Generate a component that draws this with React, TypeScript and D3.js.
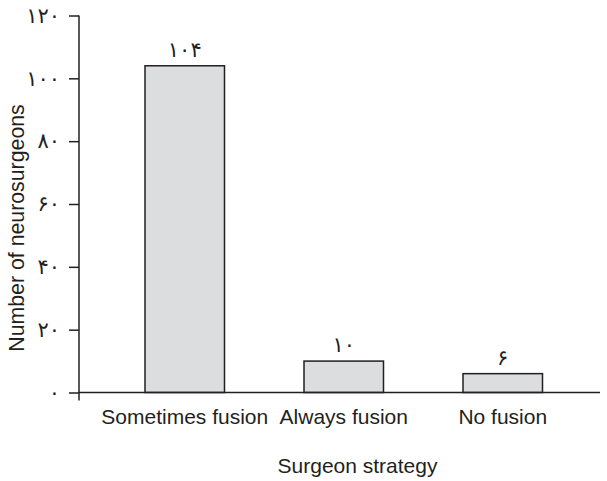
import React, { useEffect, useRef } from "react";
import * as d3 from "d3";

const categories = ["Sometimes fusion", "Always fusion", "No fusion"];
const counts = [104, 10, 6];
const yTickValues = [0, 20, 40, 60, 80, 100, 120];
const xTitle = "Surgeon strategy";
const yTitle = "Number of neurosurgeons";

const W = 607;
const H = 481;
const persianDigits = ["۰", "۱", "۲", "۳", "۴", "۵", "۶", "۷", "۸", "۹"];
const toPersian = (n: number) => String(n).replace(/[0-9]/g, (d) => persianDigits[+d]);

export default function App() {
  const ref = useRef<SVGSVGElement>(null);

  useEffect(() => {
    const svg = d3.select(ref.current);
    svg.selectAll("*").remove();

    const x = d3
      .scaleBand<string>()
      .domain(categories)
      .range([65.5, 622])
      .paddingInner(0.5)
      .paddingOuter(0.5);
    const y = d3.scaleLinear().domain([0, 120]).range([392.5, 15.5]);

    const ink = "#231f20";
    const axisX = 79;

    // bars
    svg
      .append("g")
      .selectAll("rect")
      .data(categories)
      .join("rect")
      .attr("x", (d) => x(d)!)
      .attr("width", x.bandwidth())
      .attr("y", (_, i) => y(counts[i]))
      .attr("height", (_, i) => y(0) - y(counts[i]))
      .attr("fill", "#dcddde")
      .attr("stroke", ink)
      .attr("stroke-width", 1.5);

    // bar value labels
    svg
      .append("g")
      .selectAll("text")
      .data(categories)
      .join("text")
      .attr("x", (d) => x(d)! + x.bandwidth() / 2)
      .attr("y", (_, i) => y(counts[i]) - 9)
      .attr("text-anchor", "middle")
      .attr("font-family", "DejaVu Sans, sans-serif")
      .attr("font-size", 21)
      .attr("fill", ink)
      .text((_, i) => toPersian(counts[i]));

    // y axis ticks
    const yAxis = d3
      .axisLeft(y)
      .tickValues(yTickValues)
      .tickFormat((d) => toPersian(d as number))
      .tickSize(10)
      .tickPadding(9);
    const gy = svg.append("g").attr("transform", `translate(${axisX},0)`).call(yAxis);
    gy.select(".domain").remove();
    gy.selectAll("line").attr("stroke", ink).attr("stroke-width", 1.5);
    gy.selectAll("text")
      .attr("font-family", "DejaVu Sans, sans-serif")
      .attr("font-size", 21)
      .attr("fill", ink);

    // axis lines
    svg
      .append("line")
      .attr("x1", axisX)
      .attr("x2", axisX)
      .attr("y1", y(120))
      .attr("y2", y(0) + 8)
      .attr("stroke", ink)
      .attr("stroke-width", 1.5);
    svg
      .append("line")
      .attr("x1", axisX)
      .attr("x2", 600)
      .attr("y1", y(0))
      .attr("y2", y(0))
      .attr("stroke", ink)
      .attr("stroke-width", 1.5);

    // category labels
    svg
      .append("g")
      .selectAll("text")
      .data(categories)
      .join("text")
      .attr("x", (d) => x(d)! + x.bandwidth() / 2)
      .attr("y", 424)
      .attr("text-anchor", "middle")
      .attr("font-family", "Liberation Sans, Arial, sans-serif")
      .attr("font-size", 21)
      .attr("fill", ink)
      .text((d) => d);

    // titles
    svg
      .append("text")
      .attr("x", 357.5)
      .attr("y", 473)
      .attr("text-anchor", "middle")
      .attr("font-family", "Liberation Sans, Arial, sans-serif")
      .attr("font-size", 21)
      .attr("fill", ink)
      .text(xTitle);
    svg
      .append("text")
      .attr("transform", `translate(24,228) rotate(-90)`)
      .attr("text-anchor", "middle")
      .attr("font-family", "Liberation Sans, Arial, sans-serif")
      .attr("font-size", 21.3)
      .attr("fill", ink)
      .text(yTitle);
  }, []);

  return (
    <svg
      ref={ref}
      width={W}
      height={H}
      style={{ position: "absolute", left: 0, top: 0, background: "#fff" }}
    />
  );
}
